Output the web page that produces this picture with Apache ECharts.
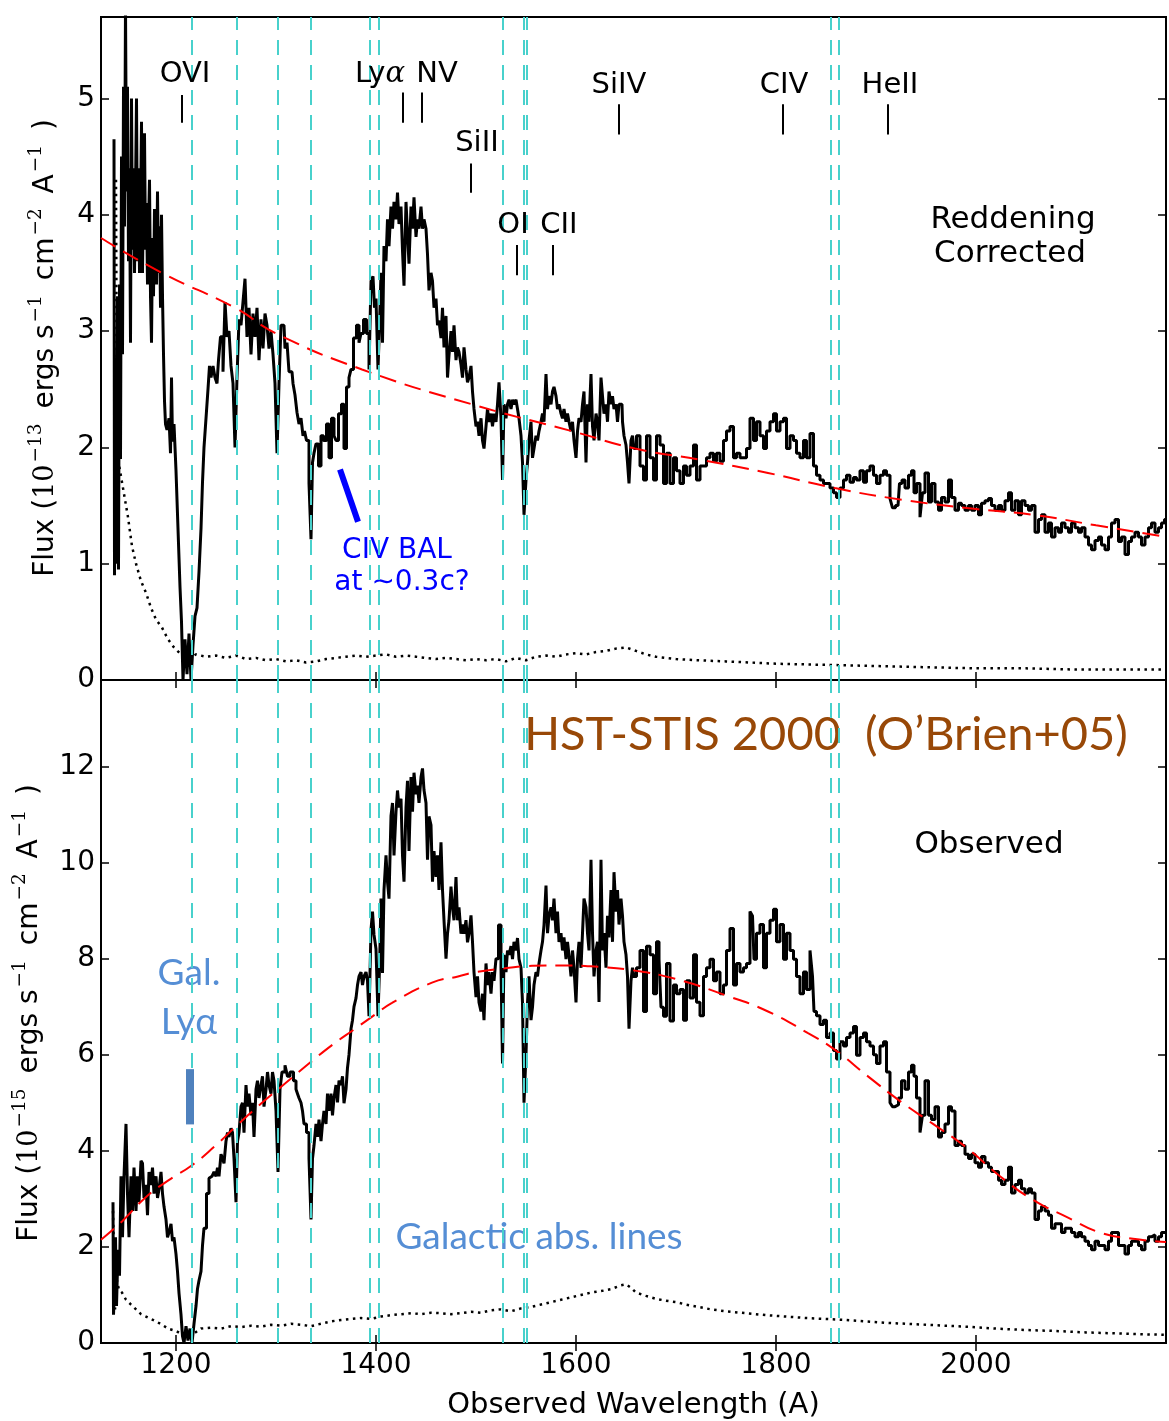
<!DOCTYPE html>
<html>
<head>
<meta charset="utf-8">
<script src="https://cdn.jsdelivr.net/npm/echarts@6/dist/echarts.min.js"></script>
<style>
  html, body { margin: 0; padding: 0; background: #fff; }
  #chart { width: 1169px; height: 1421px; }
</style>
</head>
<body>
<div id="chart"></div>
<script>
// ---- Axis ticks ----
const xTicks = [1200, 1400, 1600, 1800, 2000];
const yTicksTop = [0, 1, 2, 3, 4, 5];
const yTicksBottom = [0, 2, 4, 6, 8, 10, 12];

// ---- Galactic (foreground) absorption lines, Angstrom ----
const galacticLines = [1215.67, 1260.42, 1302.17, 1334.53, 1393.76, 1402.77, 1526.71, 1548.20, 1550.77, 1854.72, 1862.79];

// ---- Quasar emission line identifications (observed wavelength) ----
const emissionLines = [
  ['OVI', 1206], ['Lyα', 1427], ['NV', 1446], ['SiII', 1495], ['OI', 1541],
  ['CII', 1577], ['SiIV', 1643], ['CIV', 1807], ['HeII', 1912]
];

// ---- Reddening-corrected spectrum, 1e-13 erg/s/cm2/A ----
const fluxCorrected = [
  [1138,4.65],[1139,0.9],[1140,2.0],[1141,1.0],[1142,3.3],[1143,0.95],[1144,3.4],[1145,1.9],[1146,4.5],[1147,2.8],
  [1148,5.1],[1149,3.9],[1150,5.8],[1151,4.2],[1152,5.1],[1153,3.6],[1154,4.4],[1155,2.9],[1156,5.0],[1157,3.7],
  [1158,4.4],[1159,3.5],[1160,4.2],[1161,5.0],[1162,3.6],[1163,4.4],[1164,3.5],[1165,4.0],[1166,4.8],[1167,3.5],
  [1168,4.2],[1169,4.7],[1170,3.7],[1171,4.1],[1172,3.4],[1173,3.9],[1174,4.3],[1175,3.3],[1176,2.9],[1177,3.8],
  [1178,3.3],[1179,4.05],[1180,3.6],[1181,3.4],[1182,4.2],[1183,3.5],[1184,3.9],[1185,3.2],[1186,4.0],[1187,3.3],
  [1188,2.8],[1189,2.4],[1190,2.2],[1192,2.15],[1194,2.25],[1195,1.95],[1196,2.6],[1197,2.05],[1199,2.2],[1201,1.8],
  [1203,1.3],[1205,0.8],[1206,0.5],[1208,0.0],[1210,0.35],[1212,0.05],[1214,0.4],[1216,0.0],[1218,0.3],[1220,0.55],
  [1222,0.62],[1224,0.93],[1226,1.3],[1227,1.7],[1229,2.0],[1231,2.25],[1233,2.5],[1234,2.7],[1236,2.6],[1238,2.7],
  [1240,2.6],[1242,2.55],[1243,2.75],[1246,2.95],[1248,2.65],[1250,3.25],[1252,2.95],[1254,3.0],[1256,2.7],[1258,2.55],
  [1260,2.0],[1262,2.6],[1264,3.1],[1266,3.05],[1268,3.25],[1270,3.45],[1272,2.95],[1274,3.2],[1276,2.8],[1278,3.15],
  [1280,2.95],[1282,3.2],[1284,2.75],[1286,3.1],[1288,2.85],[1290,3.15],[1292,3.05],[1294,2.85],[1296,3.0],[1298,2.8],
  [1300,2.55],[1302,1.95],[1304,2.55],[1306,3.05],[1308,3.05],[1310,2.85],[1312,2.9],[1314,2.65],[1316,2.65],[1318,2.55],
  [1320,2.45],[1322,2.3],[1324,2.2],[1326,2.25],[1328,2.1],[1329,2.14],[1332,2.06],[1334,1.69],[1336,1.21],[1337,1.87],
  [1339,1.95],[1341,2.03],[1344,1.84],[1346,2.1],[1349,2.06],[1352,2.2],[1354,1.91],[1357,2.25],[1359,2.1],[1361,2.06],
  [1364,2.29],[1367,2.37],[1369,1.99],[1372,2.52],[1374,2.6],[1376,2.67],[1379,2.94],[1382,3.05],[1384,2.9],[1386,2.98],
  [1389,3.1],[1392,2.98],[1394,2.67],[1396,3.43],[1398,3.47],[1399,3.2],[1401,3.28],[1403,2.67],[1404,3.05],[1406,3.5],
  [1407,2.9],[1409,3.73],[1411,3.6],[1412,3.96],[1414,3.73],[1416,4.07],[1417,3.88],[1419,4.11],[1421,3.96],[1422,4.19],
  [1424,3.92],[1426,4.07],[1427,3.69],[1429,3.39],[1431,4.11],[1432,3.84],[1434,3.58],[1436,4.07],[1437,3.88],[1439,4.15],
  [1441,3.81],[1442,3.96],[1444,3.88],[1446,4.07],[1447,3.88],[1449,3.96],[1451,3.88],[1452,3.66],[1454,3.35],[1456,3.5],
  [1457,3.43],[1459,3.2],[1461,3.28],[1462,3.05],[1464,3.09],[1466,2.94],[1467,3.2],[1469,2.86],[1471,3.13],[1472,2.6],
  [1474,2.79],[1476,3.0],[1477,2.82],[1479,3.05],[1481,2.75],[1482,2.86],[1484,2.82],[1486,2.71],[1487,2.6],[1489,2.86],
  [1491,2.67],[1492,2.56],[1494,2.6],[1496,2.7],[1497,2.48],[1499,2.33],[1501,2.18],[1502,2.22],[1504,2.1],[1506,2.25],
  [1507,2.06],[1509,1.99],[1511,2.18],[1512,2.33],[1514,2.22],[1516,2.29],[1517,2.18],[1519,2.29],[1521,2.22],[1522,2.37],
  [1524,2.56],[1526,2.25],[1527,1.72],[1529,2.37],[1531,2.25],[1532,2.37],[1534,2.41],[1536,2.33],[1537,2.41],[1539,2.37],
  [1541,2.41],[1542,2.33],[1544,2.25],[1546,2.1],[1547,1.87],[1549,1.42],[1551,1.72],[1552,1.87],[1554,2.06],[1556,2.22],
  [1557,1.91],[1559,1.99],[1561,2.1],[1562,2.06],[1564,2.14],[1566,2.22],[1567,2.29],[1569,2.22],[1571,2.63],[1572,2.33],
  [1574,2.44],[1576,2.37],[1577,2.48],[1579,2.52],[1581,2.44],[1582,2.33],[1584,2.37],[1586,2.29],[1587,2.25],[1589,2.33],
  [1591,2.22],[1592,2.29],[1594,2.22],[1596,2.14],[1597,2.22],[1599,2.06],[1601,1.91],[1602,2.14],[1604,2.25],[1606,2.22],
  [1607,2.37],[1609,2.48],[1611,1.87],[1612,2.37],[1614,2.22],[1616,2.63],[1617,2.18],[1619,2.06],[1621,2.29],[1622,2.22],
  [1624,2.06],[1626,2.6],[1627,2.44],[1629,2.29],[1631,2.37],[1632,2.22],[1634,2.48],[1636,2.37],[1637,2.44],[1639,2.33],
  [1641,2.37],[1642,2.22],[1644,2.37],[1646,2.37],[1647,2.22],[1649,2.1],[1651,2.02],[1652,1.87],[1654,1.69],[1656,2.06],
  [1657,2.1],[1659,1.99],[1662,2.1],[1666,1.84],[1669,1.72],[1672,2.1],[1676,1.91],[1679,1.72],[1682,2.1],[1686,2.02],
  [1689,1.69],[1692,1.95],[1696,1.69],[1699,1.91],[1702,1.8],[1706,1.69],[1709,1.84],[1712,1.76],[1716,1.84],[1719,2.02],
  [1722,1.72],[1726,1.84],[1729,1.84],[1732,1.91],[1736,1.95],[1739,1.88],[1742,1.95],[1746,1.88],[1749,2.06],[1752,2.14],
  [1756,2.18],[1759,1.91],[1762,1.95],[1766,1.91],[1769,1.91],[1772,1.99],[1776,2.25],[1779,2.06],[1782,2.22],[1786,2.1],
  [1789,1.99],[1792,2.14],[1796,2.22],[1799,2.29],[1802,2.14],[1806,2.22],[1809,2.25],[1812,1.99],[1816,2.1],[1819,2.06],
  [1822,1.95],[1826,1.91],[1829,2.06],[1832,1.91],[1836,2.12],[1839,1.84],[1842,1.76],[1846,1.72],[1849,1.69],[1852,1.69],
  [1856,1.65],[1859,1.61],[1862,1.57],[1866,1.65],[1869,1.72],[1872,1.76],[1876,1.7],[1879,1.74],[1882,1.72],[1886,1.8],
  [1889,1.7],[1892,1.8],[1896,1.84],[1899,1.76],[1902,1.69],[1906,1.76],[1909,1.8],[1912,1.76],[1916,1.56],[1917,1.48],
  [1922,1.5],[1925,1.69],[1927,1.72],[1931,1.65],[1934,1.76],[1937,1.8],[1939,1.61],[1942,1.69],[1946,1.4],[1947,1.61],
  [1951,1.78],[1954,1.53],[1957,1.69],[1961,1.53],[1964,1.46],[1967,1.57],[1971,1.53],[1974,1.72],[1977,1.57],[1981,1.46],
  [1984,1.52],[1987,1.5],[1991,1.46],[1994,1.5],[1997,1.46],[2001,1.5],[2004,1.42],[2007,1.52],[2011,1.54],[2014,1.56],
  [2017,1.5],[2021,1.46],[2024,1.5],[2027,1.46],[2031,1.54],[2034,1.61],[2037,1.46],[2041,1.54],[2044,1.42],[2047,1.54],
  [2051,1.5],[2054,1.46],[2057,1.5],[2061,1.27],[2064,1.38],[2067,1.42],[2071,1.27],[2074,1.35],[2077,1.23],[2081,1.31],
  [2084,1.27],[2087,1.35],[2091,1.31],[2094,1.27],[2097,1.35],[2101,1.31],[2104,1.27],[2107,1.31],[2111,1.23],[2114,1.16],
  [2117,1.12],[2121,1.2],[2124,1.23],[2127,1.16],[2131,1.12],[2134,1.23],[2137,1.35],[2141,1.38],[2144,1.19],[2147,1.23],
  [2151,1.08],[2154,1.19],[2157,1.23],[2161,1.27],[2164,1.23],[2167,1.16],[2171,1.23],[2174,1.31],[2177,1.35],[2181,1.27],
  [2184,1.31],[2187,1.35],[2190,1.38]
];

// ---- Error spectrum (reddening corrected) ----
const errCorrected = [
  [1140,4.3],[1141,2.0],[1142,1.9],[1145,1.75],[1148,1.6],[1152,1.4],[1156,1.15],[1160,1.0],[1165,0.85],[1170,0.75],
  [1175,0.62],[1180,0.52],[1186,0.45],[1192,0.35],[1198,0.28],[1205,0.22],[1212,0.18],[1220,0.22],[1230,0.2],[1240,0.21],
  [1250,0.19],[1260,0.21],[1270,0.18],[1280,0.19],[1290,0.17],[1300,0.18],[1310,0.16],[1320,0.17],[1330,0.15],[1340,0.16],
  [1350,0.18],[1360,0.19],[1370,0.2],[1380,0.21],[1390,0.2],[1400,0.21],[1410,0.22],[1420,0.2],[1430,0.21],[1440,0.2],
  [1450,0.19],[1460,0.18],[1470,0.19],[1480,0.18],[1490,0.17],[1500,0.18],[1510,0.17],[1520,0.18],[1530,0.16],[1540,0.19],
  [1550,0.17],[1560,0.2],[1570,0.21],[1580,0.2],[1590,0.22],[1600,0.23],[1610,0.22],[1620,0.24],[1630,0.25],[1640,0.27],
  [1650,0.28],[1660,0.25],[1670,0.22],[1680,0.2],[1700,0.18],[1720,0.17],[1750,0.16],[1800,0.14],[1850,0.13],[1900,0.12],
  [1950,0.11],[2000,0.1],[2050,0.1],[2100,0.09],[2150,0.09],[2190,0.09]
];

// ---- Power-law continuum (reddening corrected) ----
const contCorrected = [
  [1125,3.8],[1186,3.5],[1259,3.2],[1300,2.98],[1386,2.67],[1496,2.37],[1600,2.13],[1659,1.99],[1726,1.89],
  [1792,1.78],[1859,1.65],[1926,1.55],[2000,1.47],[2057,1.42],[2120,1.33],[2190,1.23]
];

// ---- Observed spectrum, 1e-15 erg/s/cm2/A ----
const fluxObserved = [
  [1137,2.93],[1138,0.59],[1139,1.13],[1140,2.2],[1141,0.77],[1143,1.94],[1144,1.4],[1146,3.47],[1147,2.2],[1149,3.47],
  [1151,4.56],[1152,3.1],[1154,2.2],[1156,3.47],[1157,2.75],[1159,3.65],[1161,2.75],[1162,3.47],[1164,2.93],[1166,3.79],
  [1167,3.74],[1169,3.02],[1171,3.29],[1172,2.66],[1174,3.56],[1176,3.29],[1177,3.65],[1179,3.11],[1181,3.47],[1182,3.02],
  [1184,3.2],[1186,3.56],[1187,3.11],[1189,2.84],[1191,2.57],[1192,2.2],[1194,2.3],[1196,2.48],[1197,2.12],[1199,2.2],
  [1201,1.85],[1202,1.49],[1204,1.04],[1206,0.59],[1207,0.14],[1209,0.0],[1211,0.35],[1213,0.05],[1215,0.3],[1217,0.0],
  [1219,0.4],[1221,0.77],[1222,1.13],[1224,1.3],[1226,1.49],[1227,2.03],[1229,2.39],[1232,3.11],[1234,3.43],[1236,3.47],
  [1237,3.43],[1239,3.56],[1241,3.47],[1242,3.65],[1244,3.47],[1246,3.93],[1247,3.84],[1249,3.74],[1251,4.2],[1252,4.38],
  [1254,4.29],[1256,4.47],[1257,4.38],[1259,3.84],[1261,2.93],[1262,4.2],[1264,4.38],[1266,4.92],[1267,5.0],[1269,4.38],
  [1271,5.37],[1272,4.92],[1274,5.19],[1276,4.74],[1277,5.0],[1279,4.29],[1281,5.28],[1282,5.46],[1284,5.1],[1286,5.37],
  [1287,5.55],[1289,4.92],[1291,5.28],[1292,5.64],[1294,5.37],[1296,5.19],[1297,5.64],[1299,5.46],[1301,4.83],[1303,3.56],
  [1305,5.28],[1307,5.64],[1311,5.78],[1312,5.55],[1316,5.64],[1319,5.46],[1321,5.28],[1322,5.19],[1324,5.1],[1326,5.0],
  [1327,4.83],[1329,4.56],[1332,4.38],[1334,3.84],[1336,2.57],[1337,3.84],[1339,4.11],[1341,4.56],[1342,4.29],[1344,4.65],
  [1346,4.2],[1347,4.56],[1349,4.83],[1351,4.56],[1352,5.19],[1354,4.83],[1356,5.19],[1357,4.74],[1359,5.1],[1361,5.37],
  [1362,5.01],[1364,5.46],[1366,5.37],[1367,5.55],[1369,4.99],[1371,5.28],[1372,5.73],[1374,6.0],[1376,6.54],[1377,6.72],
  [1379,7.0],[1381,7.18],[1382,7.45],[1384,7.63],[1386,7.72],[1387,7.45],[1389,7.63],[1391,7.72],[1392,7.54],[1394,6.8],
  [1396,8.6],[1397,8.98],[1399,8.5],[1401,8.2],[1403,6.8],[1404,7.8],[1406,9.25],[1407,7.7],[1409,9.43],[1411,10.15],
  [1412,9.6],[1414,9.25],[1416,10.97],[1417,11.24],[1419,10.15],[1421,11.06],[1422,11.5],[1424,11.15],[1426,11.33],[1427,10.15],
  [1429,9.6],[1431,11.15],[1432,11.7],[1434,10.24],[1436,11.78],[1437,11.06],[1439,11.87],[1441,11.42],[1442,11.6],[1444,11.24],
  [1446,11.78],[1447,11.96],[1449,11.51],[1451,11.24],[1452,10.06],[1454,10.96],[1456,10.78],[1457,9.6],[1459,10.24],[1461,9.7],
  [1462,10.15],[1464,9.43],[1466,10.42],[1467,9.43],[1469,8.8],[1471,8.0],[1472,8.52],[1474,8.8],[1476,9.5],[1477,9.07],
  [1479,8.8],[1481,9.7],[1482,8.8],[1484,9.07],[1486,8.52],[1487,8.71],[1489,8.52],[1491,8.8],[1492,8.34],[1494,8.52],
  [1496,8.9],[1497,8.35],[1499,7.72],[1501,7.2],[1502,7.63],[1504,7.09],[1506,6.9],[1507,7.27],[1509,6.72],[1511,7.9],
  [1512,7.45],[1514,7.72],[1516,7.27],[1517,7.72],[1519,7.54],[1521,8.0],[1524,8.7],[1526,7.81],[1527,5.82],[1529,8.08],
  [1531,7.72],[1532,8.17],[1534,8.08],[1536,8.26],[1537,7.99],[1539,8.35],[1541,8.17],[1542,8.43],[1544,7.99],[1546,7.81],
  [1547,7.08],[1549,5.0],[1551,6.0],[1552,7.08],[1554,7.63],[1556,6.72],[1557,6.99],[1559,7.45],[1561,7.72],[1562,7.63],
  [1564,7.9],[1566,8.17],[1567,8.35],[1569,8.7],[1571,9.52],[1572,8.53],[1574,8.89],[1576,9.07],[1577,8.8],[1579,9.25],
  [1581,8.53],[1582,8.98],[1584,8.35],[1586,8.53],[1587,8.17],[1589,8.44],[1591,7.99],[1592,8.35],[1594,8.08],[1596,7.63],
  [1597,8.17],[1599,7.81],[1601,7.09],[1602,7.99],[1604,8.35],[1606,7.81],[1607,8.53],[1609,9.25],[1611,9.07],[1612,8.53],
  [1614,8.17],[1616,10.06],[1617,8.53],[1619,7.63],[1621,8.17],[1622,8.35],[1624,7.1],[1626,10.06],[1627,8.17],[1629,8.53],
  [1631,7.81],[1632,8.89],[1634,8.44],[1636,9.43],[1637,8.35],[1639,9.8],[1641,8.98],[1642,9.43],[1644,8.71],[1646,9.25],
  [1647,8.89],[1649,8.35],[1651,8.08],[1652,7.63],[1654,6.54],[1656,7.54],[1657,7.81],[1659,7.63],[1662,7.81],[1666,8.17],
  [1669,6.9],[1672,8.26],[1676,8.08],[1679,7.27],[1682,8.35],[1684,7.99],[1686,6.99],[1689,6.8],[1692,7.9],[1696,6.7],
  [1699,7.45],[1702,7.27],[1706,7.36],[1709,6.72],[1712,7.54],[1716,7.18],[1719,8.08],[1722,7.09],[1726,6.81],[1729,7.63],
  [1732,7.81],[1736,7.99],[1739,7.54],[1742,7.72],[1746,7.27],[1749,7.45],[1752,8.17],[1756,8.63],[1759,7.45],[1762,7.9],
  [1766,7.72],[1769,7.81],[1772,7.9],[1776,8.98],[1777,8.89],[1779,7.99],[1782,8.53],[1786,8.71],[1789,7.81],[1792,8.53],
  [1796,8.8],[1799,9.03],[1802,8.35],[1806,8.71],[1809,7.99],[1812,8.53],[1816,8.17],[1819,7.99],[1822,7.63],[1826,7.27],
  [1829,7.72],[1832,7.36],[1836,8.17],[1837,7.63],[1839,6.9],[1842,6.81],[1846,6.63],[1849,6.72],[1852,6.36],[1856,6.45],
  [1859,6.09],[1862,5.91],[1866,6.27],[1869,6.18],[1872,6.36],[1876,6.45],[1879,6.59],[1882,5.99],[1886,6.36],[1889,6.45],
  [1892,6.27],[1896,6.18],[1899,6.0],[1902,5.82],[1906,6.18],[1909,6.27],[1912,5.64],[1916,5.0],[1917,4.92],[1921,4.96],
  [1924,5.1],[1927,5.46],[1931,5.28],[1934,5.64],[1937,5.78],[1939,5.55],[1942,5.1],[1946,4.38],[1947,4.74],[1951,5.46],
  [1954,4.74],[1957,4.65],[1961,4.92],[1964,4.29],[1967,4.38],[1971,4.56],[1974,4.92],[1977,4.83],[1981,4.11],[1984,4.2],
  [1987,4.11],[1991,3.93],[1994,3.84],[1997,3.93],[2001,3.75],[2004,3.66],[2007,3.88],[2011,3.75],[2014,3.66],[2017,3.57],
  [2021,3.57],[2024,3.39],[2027,3.3],[2031,3.39],[2034,3.66],[2037,3.12],[2041,3.3],[2044,3.39],[2047,3.21],[2051,3.12],
  [2054,3.21],[2057,3.12],[2061,2.57],[2064,2.75],[2067,2.84],[2071,2.75],[2074,2.66],[2077,2.39],[2081,2.48],[2084,2.48],
  [2087,2.3],[2091,2.39],[2094,2.39],[2097,2.3],[2101,2.21],[2104,2.3],[2107,2.21],[2111,2.12],[2114,2.03],[2117,1.94],
  [2121,2.12],[2124,2.03],[2127,2.03],[2131,1.94],[2134,2.12],[2137,2.3],[2141,2.3],[2144,2.03],[2147,2.03],[2151,1.85],
  [2154,2.03],[2157,2.12],[2161,2.12],[2164,2.03],[2167,1.94],[2171,2.12],[2174,2.21],[2177,2.25],[2181,2.12],[2184,2.21],
  [2187,2.3],[2190,2.3]
];

// ---- Error spectrum (observed) ----
const errObserved = [
  [1137,2.75],[1139,0.7],[1141,1.3],[1143,1.1],[1146,1.05],[1150,0.9],[1155,0.8],[1160,0.7],[1165,0.6],[1170,0.55],
  [1175,0.5],[1180,0.45],[1186,0.38],[1192,0.3],[1200,0.25],[1206,0.18],[1212,0.12],[1218,0.2],[1225,0.3],[1235,0.32],
  [1245,0.3],[1255,0.35],[1265,0.33],[1275,0.36],[1285,0.34],[1295,0.38],[1305,0.36],[1315,0.4],[1325,0.38],[1335,0.35],
  [1345,0.4],[1355,0.45],[1365,0.48],[1375,0.5],[1385,0.52],[1395,0.5],[1405,0.55],[1415,0.58],[1425,0.6],[1435,0.62],
  [1445,0.6],[1455,0.63],[1465,0.62],[1475,0.6],[1485,0.62],[1495,0.65],[1505,0.63],[1515,0.68],[1525,0.7],[1535,0.66],
  [1545,0.72],[1555,0.75],[1565,0.8],[1575,0.85],[1585,0.9],[1595,0.95],[1605,1.0],[1615,1.05],[1625,1.08],[1635,1.12],
  [1645,1.2],[1650,1.22],[1655,1.15],[1660,1.05],[1670,0.98],[1680,0.92],[1690,0.88],[1700,0.85],[1710,0.8],[1720,0.76],
  [1735,0.7],[1750,0.66],[1770,0.62],[1790,0.58],[1810,0.55],[1830,0.52],[1850,0.5],[1870,0.48],[1890,0.45],[1910,0.42],
  [1930,0.4],[1960,0.37],[1990,0.34],[2020,0.3],[2050,0.27],[2080,0.25],[2110,0.22],[2140,0.2],[2170,0.18],[2190,0.17]
];

// ---- Reddened power-law continuum (observed) ----
const contObserved = [
  [1125,2.15],[1146,2.53],[1169,3.02],[1192,3.38],[1216,3.7],[1239,4.1],[1262,4.55],[1286,5.0],[1309,5.4],[1332,5.8],
  [1356,6.2],[1379,6.54],[1400,6.85],[1416,7.08],[1456,7.5],[1482,7.63],[1500,7.72],[1529,7.8],[1556,7.85],[1589,7.86],
  [1622,7.83],[1656,7.76],[1699,7.58],[1752,7.22],[1792,6.9],[1832,6.45],[1859,6.1],[1892,5.55],[1925,5.02],[1957,4.56],
  [1991,4.06],[2024,3.47],[2057,2.98],[2091,2.62],[2124,2.3],[2157,2.17],[2190,2.1]
];

// ---------------- layout / style ----------------
const X_MIN = 1125, X_MAX = 2190;
const FONT = 'DejaVu Sans';
const CALI = 'Lato, "Open Sans", sans-serif';
const CYAN = '#48d1cc';
const TICK_FONT = 28;

// vertical placement of each identification: tick span and label anchor (flux units)
const idLayout = {
  'OVI':  { tick: [4.79, 5.03], label: [1209, 5.21] },
  'Lyα':  { tick: [4.79, 5.05], label: [1404, 5.21] },
  'NV':   { tick: [4.79, 5.05], label: [1461, 5.21] },
  'SiII': { tick: [4.19, 4.44], label: [1501, 4.61] },
  'OI':   { tick: [3.48, 3.74], label: [1537, 3.91] },
  'CII':  { tick: [3.48, 3.74], label: [1583, 3.91] },
  'SiIV': { tick: [4.69, 4.95], label: [1643, 5.11] },
  'CIV':  { tick: [4.69, 4.95], label: [1808, 5.11] },
  'HeII': { tick: [4.69, 4.95], label: [1914, 5.11] }
};

function xAxisFor(grid, position, showLabels) {
  const ax = {
    type: 'value', gridIndex: grid, position: position, min: X_MIN, max: X_MAX,
    splitLine: { show: false }, axisLine: { show: false },
    axisTick: { show: true, inside: true, length: 8, lineStyle: { color: '#000', width: 1.5 }, customValues: xTicks },
    axisLabel: {
      show: showLabels, customValues: xTicks, color: '#000', fontFamily: FONT, fontSize: TICK_FONT, margin: 9,
      formatter: v => String(v)
    }
  };
  if (showLabels) {
    ax.name = 'Observed Wavelength (A)';
    ax.nameLocation = 'middle';
    ax.nameGap = 48;
    ax.nameTextStyle = { color: '#000', fontFamily: FONT, fontSize: 29 };
  }
  return ax;
}

function yAxisFor(grid, position, showLabels, max, ticks) {
  return {
    type: 'value', gridIndex: grid, position: position, min: 0, max: max,
    interval: ticks[1] - ticks[0],
    splitLine: { show: false }, axisLine: { show: false },
    axisTick: { show: true, inside: true, length: 8, lineStyle: { color: '#000', width: 1.5 }, customValues: ticks },
    axisLabel: {
      show: showLabels, customValues: ticks, color: '#000', fontFamily: FONT, fontSize: TICK_FONT, margin: 6,
      formatter: v => String(v)
    }
  };
}

const idTicks = emissionLines.map(([name, wl]) => [
  { coord: [wl, idLayout[name].tick[0]] },
  { coord: [wl, idLayout[name].tick[1]] }
]);
const idLabels = emissionLines.map(([name]) => ({ name: name, value: idLayout[name].label }));

const galMarks = galacticLines.map(v => ({ xAxis: v }));

function yTitle(exp) {
  return '{n|Flux (}{m|10}{s|−' + exp + '}{n| ergs s}{s|−1}{n| cm}{s|−2}{n| A}{s|−1}{n| )}';
}
const yTitleRich = {
  n: { fontFamily: FONT, fontSize: 28, lineHeight: 38, verticalAlign: 'middle', fill: '#000', color: '#000' },
  m: { fontFamily: 'DejaVu Serif', fontSize: 27, lineHeight: 38, verticalAlign: 'middle', fill: '#000', color: '#000' },
  s: { fontFamily: 'DejaVu Serif', fontSize: 18.5, lineHeight: 22, verticalAlign: 'top', fill: '#000', color: '#000', padding: [0, 6, 0, 2] }
};

function textEl(x, y, text, font, size, color) {
  return {
    type: 'text', x: x, y: y, silent: true,
    style: {
      text: text, fontFamily: font, fontSize: size, fill: color,
      align: 'center', verticalAlign: 'middle', textAlign: 'center', textVerticalAlign: 'middle'
    }
  };
}
function yTitleEl(x, y, exp) {
  return {
    type: 'text', x: x, y: y, rotation: Math.PI / 2, silent: true,
    style: {
      text: yTitle(exp), rich: yTitleRich, fill: '#000',
      align: 'center', verticalAlign: 'middle', textAlign: 'center', textVerticalAlign: 'middle'
    }
  };
}

const chart = echarts.init(document.getElementById('chart'), null, { renderer: 'canvas', width: 1169, height: 1421 });

chart.setOption({
  animation: false,
  backgroundColor: '#fff',
  grid: [
    { left: 101, top: 17, width: 1065, height: 663, show: true, borderColor: '#000', borderWidth: 2, backgroundColor: 'transparent' },
    { left: 101, top: 680, width: 1065, height: 663, show: true, borderColor: '#000', borderWidth: 2, backgroundColor: 'transparent' }
  ],
  xAxis: [
    xAxisFor(0, 'bottom', false),
    xAxisFor(0, 'top', false),
    xAxisFor(1, 'bottom', true),
    xAxisFor(1, 'top', false)
  ],
  yAxis: [
    yAxisFor(0, 'left', true, 5.7, yTicksTop),
    yAxisFor(0, 'right', false, 5.7, yTicksTop),
    yAxisFor(1, 'left', true, 13.8, yTicksBottom),
    yAxisFor(1, 'right', false, 13.8, yTicksBottom)
  ],
  series: [
    // ---------- upper panel: reddening corrected ----------
    {
      type: 'line', xAxisIndex: 0, yAxisIndex: 0, data: errCorrected, showSymbol: false, silent: true, z: 2,
      lineStyle: { color: '#000', width: 2.5, type: [2.5, 4.5] },
      markLine: {
        silent: true, symbol: ['none', 'none'], label: { show: false },
        lineStyle: { color: CYAN, width: 2, type: [15, 10] },
        data: galMarks.concat(
          idTicks.map(p => [Object.assign({ lineStyle: { color: '#000', width: 2, type: 'solid' } }, p[0]), p[1]]),
          [[{ coord: [1364, 1.81], lineStyle: { color: '#0000ff', width: 6, type: 'solid' } }, { coord: [1382, 1.36] }]]
        )
      }
    },
    {
      type: 'line', xAxisIndex: 0, yAxisIndex: 0, data: fluxCorrected, step: 'middle', showSymbol: false, silent: true, z: 3,
      lineStyle: { color: '#000', width: 3 }
    },
    {
      type: 'line', xAxisIndex: 0, yAxisIndex: 0, data: contCorrected, smooth: true, showSymbol: false, silent: true, z: 4,
      lineStyle: { color: '#ff0000', width: 2, type: [17, 9] }
    },
    {
      type: 'scatter', xAxisIndex: 0, yAxisIndex: 0, data: idLabels, symbolSize: 1, silent: true, z: 6,
      itemStyle: { opacity: 0 },
      label: {
        show: true, position: 'inside', align: 'center', verticalAlign: 'middle',
        fontFamily: FONT, fontSize: 29, color: '#000', opacity: 1, textBorderWidth: 0,
        formatter: p => p.name === 'Lyα' ? '{r|Ly}{g|α}' : '{r|' + p.name + '}',
        rich: {
          r: { fontFamily: FONT, fontSize: 29, color: '#000' },
          g: { fontFamily: 'DejaVu Serif', fontStyle: 'italic', fontSize: 29, color: '#000' }
        }
      }
    },
    // ---------- lower panel: observed ----------
    {
      type: 'line', xAxisIndex: 2, yAxisIndex: 2, data: errObserved, showSymbol: false, silent: true, z: 2,
      lineStyle: { color: '#000', width: 2.5, type: [2.5, 4.5] },
      markLine: {
        silent: true, symbol: ['none', 'none'], label: { show: false },
        lineStyle: { color: CYAN, width: 2, type: [15, 10] },
        data: galMarks.concat([
          [{ coord: [1214, 5.7], lineStyle: { color: '#4f81bd', width: 8, type: 'solid' } }, { coord: [1214, 4.55] }]
        ])
      }
    },
    {
      type: 'line', xAxisIndex: 2, yAxisIndex: 2, data: fluxObserved, step: 'middle', showSymbol: false, silent: true, z: 3,
      lineStyle: { color: '#000', width: 3 }
    },
    {
      type: 'line', xAxisIndex: 2, yAxisIndex: 2, data: contObserved, smooth: true, showSymbol: false, silent: true, z: 4,
      lineStyle: { color: '#ff0000', width: 2, type: [17, 9] }
    }
  ],
  graphic: [
    yTitleEl(46, 348, '13'),
    yTitleEl(30, 1013, '15'),
    textEl(1013, 220, 'Reddening', FONT, 31, '#000'),
    textEl(1010, 254, 'Corrected', FONT, 31, '#000'),
    textEl(397, 551, 'CIV BAL', FONT, 28, '#0000ff'),
    textEl(402, 583, 'at ∼0.3c?', FONT, 28, '#0000ff'),
    textEl(826, 735, 'HST-STIS 2000  (O’Brien+05)', CALI, 47, '#984807'),
    textEl(989, 845, 'Observed', FONT, 31, '#000'),
    textEl(189, 973, 'Gal.', CALI, 37, '#558ed5'),
    textEl(189, 1022, 'Lyα', CALI, 37, '#558ed5'),
    textEl(539, 1237, 'Galactic abs. lines', CALI, 37, '#558ed5')
  ]
});
</script>
</body>
</html>
